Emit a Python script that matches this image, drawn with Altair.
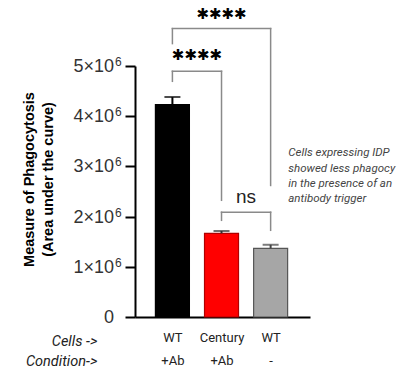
import json
import altair as alt
import pandas as pd

# ---- data ----
cells = ["WT", "Century", "WT"]
conditions = ["+Ab", "+Ab", "-"]
means = [4.23e6, 1.667e6, 1.369e6]
sems = [0.15e6, 0.046e6, 0.07e6]
bar_fill = ["#000000", "#ff0000", "#a6a6a6"]
bar_stroke = ["#000000", "#b00000", "#555555"]
err_color = ["#000000", "#333333", "#444444"]

# significance brackets (group index from, to; heights in data units)
br_from = [0, 0, 1]
br_to = [2, 1, 2]
br_top = [5.745e6, 4.894e6, 2.086e6]
br_left_bottom = [5.446e6, 4.695e6, 1.926e6]
br_right_bottom = [2.62e6, 2.325e6, 1.727e6]
br_label = ["✱✱✱✱", "✱✱✱✱", "ns"]
br_label_y = [6.04e6, 5.21e6, 2.39e6]

note_lines = ["Cells expressing IDP", "showed less phagocy", "in the presence of an", "antibody trigger"]
note_x = [2.36]
note_y = [3.38e6]

row_headers = ["Cells ->", "Condition->"]
row_header_x = [-1.53, -1.53]
row_header_y = [-0.5e6, -0.89e6]

y_ticks = [0, 1e6, 2e6, 3e6, 4e6, 5e6]
y_tick_main = ["0", "1×10", "2×10", "3×10", "4×10", "5×10"]
y_tick_exp = ["", "6", "6", "6", "6", "6"]
y_label_anchor = -1.19

# ---- tables ----
idx = list(range(len(cells)))
bars = pd.DataFrame({
    "idx": idx, "cell": cells, "cond": conditions, "mean": means, "sem": sems,
    "key": [f"{c} {d} {i}" for i, (c, d) in enumerate(zip(cells, conditions))],
})
bars["upper"] = bars["mean"] + bars["sem"]

br = pd.DataFrame({"x1": br_from, "x2": br_to, "top": br_top,
                   "lb": br_left_bottom, "rb": br_right_bottom,
                   "label": br_label, "ly": br_label_y})
legs = pd.concat([
    pd.DataFrame({"x": br_from, "top": br_top, "bottom": br_left_bottom}),
    pd.DataFrame({"x": br_to, "top": br_top, "bottom": br_right_bottom}),
])
note = pd.DataFrame({"x": note_x, "y": note_y, "t": [note_lines]})
rows = pd.DataFrame({"x": row_header_x, "y": row_header_y, "t": row_headers})
ylabels = pd.DataFrame({"y": y_ticks, "main": y_tick_main, "exp": y_tick_exp,
                        "x": y_label_anchor})

xscale = alt.Scale(domain=[-0.66, 2.70], nice=False, zero=False)
yscale = alt.Scale(domain=[0, 5e6], nice=False)

label_arrays = json.dumps([[c, d] for c, d in zip(cells, conditions)])

x_axis = alt.Axis(values=idx, labelExpr=f"{label_arrays}[datum.value]",
                  ticks=False, grid=False, title=None,
                  domainColor="black", domainWidth=2,
                  labelFont="Roboto", labelFontSize=13, labelColor="#222",
                  labelLineHeight=23, labelPadding=20, labelBaseline="middle")
y_axis = alt.Axis(values=y_ticks, labels=False,
                  grid=False, domainColor="black", domainWidth=2,
                  tickColor="black", tickWidth=2, tickSize=10,
                  title=["Measure of Phagocytosis", "(Area under the curve)"],
                  titleFont="Liberation Sans", titleFontSize=14.5, titleFontWeight="bold",
                  titleColor="black", titleLineHeight=19, titleAngle=-90,
                  titleBaseline="top", titleAlign="center", titleX=-113, titleY=113)

base = alt.Chart(bars)
key_dom = list(bars["key"])

bar_layer = base.mark_bar(size=34, strokeWidth=1.2).encode(
    x=alt.X("idx:Q", scale=xscale, axis=x_axis),
    y=alt.Y("mean:Q", scale=yscale, axis=y_axis),
    fill=alt.Color("key:N", scale=alt.Scale(domain=key_dom, range=bar_fill), legend=None),
    stroke=alt.Stroke("key:N", scale=alt.Scale(domain=key_dom, range=bar_stroke), legend=None),
)
err_layer = base.mark_rule(strokeWidth=2).encode(
    x="idx:Q", y="mean:Q", y2="upper:Q",
    color=alt.Color("key:N", scale=alt.Scale(domain=key_dom, range=err_color), legend=None),
)
cap_layer = base.mark_tick(orient="horizontal", size=16, thickness=2).encode(
    x="idx:Q", y="upper:Q",
    color=alt.Color("key:N", scale=alt.Scale(domain=key_dom, range=err_color), legend=None),
)

br_h = alt.Chart(br).mark_rule(color="#8a8a8a", strokeWidth=1.5, strokeCap="square").encode(
    x="x1:Q", x2="x2:Q", y="top:Q")
br_v = alt.Chart(legs).mark_rule(color="#8a8a8a", strokeWidth=1.5, strokeCap="square").encode(
    x="x:Q", y="top:Q", y2="bottom:Q")
stars = alt.Chart(br).transform_calculate(mid="(datum.x1 + datum.x2) / 2").transform_filter(
    "datum.label != 'ns'").mark_text(font="DejaVu Sans", fontSize=15, color="black",
                                    baseline="middle").encode(
    x="mid:Q", y="ly:Q", text="label:N")
ns = alt.Chart(br).transform_calculate(mid="(datum.x1 + datum.x2) / 2").transform_filter(
    "datum.label == 'ns'").mark_text(font="Liberation Sans", fontSize=19, color="#222",
                                    baseline="middle").encode(
    x="mid:Q", y="ly:Q", text="label:N")

ylab_main = alt.Chart(ylabels).mark_text(font="Liberation Sans", fontSize=18, color="#333",
                                         align="right", baseline="middle", dy=1).encode(
    x="x:Q", y="y:Q", text="main:N")
ylab_exp = alt.Chart(ylabels).transform_filter("datum.exp != ''").mark_text(
    font="Liberation Sans", fontSize=12, color="#333",
    align="left", baseline="middle", dx=1, dy=-4).encode(
    x="x:Q", y="y:Q", text="exp:N")

note_layer = alt.Chart(note).mark_text(font="Roboto", fontSize=11.5, fontStyle="italic",
                                       color="#444", align="left", baseline="top",
                                       lineHeight=15.3).encode(
    x="x:Q", y="y:Q", text="t")
row_layer = alt.Chart(rows).mark_text(font="Roboto", fontSize=14.5, fontStyle="italic",
                                      color="#222", align="right", baseline="middle").encode(
    x="x:Q", y="y:Q", text="t:N")

chart = alt.layer(bar_layer, err_layer, cap_layer, br_h, br_v, stars, ns, ylab_main, ylab_exp,
                  note_layer, row_layer).properties(
    width=175, height=251,
    autosize=alt.AutoSizeParams(type="none"),
    padding={"left": 135, "top": 66, "right": 97, "bottom": 54},
).configure(background="white").configure_view(strokeWidth=0)

chart.save("out.html", embed_options={"renderer": "svg", "actions": False})
